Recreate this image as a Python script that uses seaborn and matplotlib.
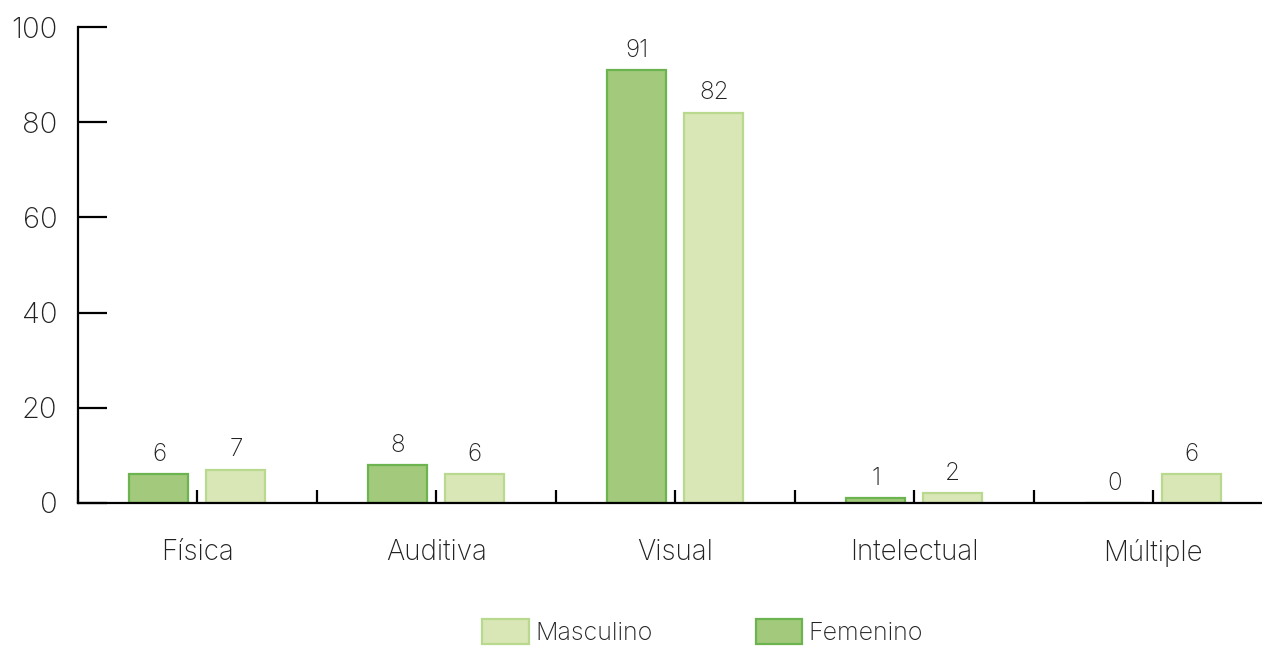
import pandas as pd
import seaborn as sns
import matplotlib.pyplot as plt
from matplotlib.patches import Patch

# data
categorias = ["Física", "Auditiva", "Visual", "Intelectual", "Múltiple"]
femenino = [6, 8, 91, 1, 0]
masculino = [7, 6, 82, 2, 6]

df = pd.DataFrame({
    "categoria": categorias * 2,
    "sexo": ["Femenino"] * len(categorias) + ["Masculino"] * len(categorias),
    "valor": femenino + masculino,
})

fill = {"Femenino": "#a3ca7c", "Masculino": "#d9e7b7"}
edge = {"Femenino": "#6cb44f", "Masculino": "#b9d98f"}
txt = "#222222"

sns.set_style("white")
plt.rcParams["font.family"] = ["Inter", "DejaVu Sans"]
plt.rcParams["font.weight"] = "light"

fig = plt.figure(figsize=(12.62, 6.46), dpi=100)
ax = fig.add_axes([0.0618, 0.2214, 0.9382, 0.7368])

sns.barplot(data=df, x="categoria", y="valor", hue="sexo",
            hue_order=["Femenino", "Masculino"], palette=fill,
            width=0.644, gap=0.233, ax=ax, legend=False, saturation=1)

for cont, s in zip(ax.containers, ["Femenino", "Masculino"]):
    for p in cont:
        p.set_edgecolor(edge[s])
        p.set_linewidth(1.6)
    ax.bar_label(cont, padding=6, fontsize=17.5, color=txt)

ax.set_xlim(-0.5, 4.456)
ax.set_ylim(0, 100)
ax.set_yticks([0, 20, 40, 60, 80, 100])
ax.set_xticks(range(len(categorias)))
ax.set_xticklabels(categorias)
ax.set_xticks([i + 0.5 for i in range(-1, 4)], minor=True)
ax.set_xlabel("")
ax.set_ylabel("")

for side in ["top", "right"]:
    ax.spines[side].set_visible(False)
for side in ["left", "bottom"]:
    ax.spines[side].set_color("black")
    ax.spines[side].set_linewidth(1.6)

ax.tick_params(axis="y", direction="in", length=21, width=1.6, color="black",
               pad=15, labelsize=21, labelcolor=txt, left=True)
ax.tick_params(axis="x", which="both", direction="in", length=9.5, width=1.6,
               color="black", bottom=True)
ax.tick_params(axis="x", which="major", pad=26, labelsize=20, labelcolor=txt)

handles = [
    Patch(facecolor=fill["Masculino"], edgecolor=edge["Masculino"], linewidth=1.6, label="Masculino"),
    Patch(facecolor=fill["Femenino"], edgecolor=edge["Femenino"], linewidth=1.6, label="Femenino"),
]
fig.legend(handles=handles, loc="lower center", bbox_to_anchor=(0.557, -0.033), ncol=2,
           frameon=False, fontsize=18, labelcolor=txt, handlelength=1.85,
           handleheight=1.2, handletextpad=0.28, columnspacing=4.1)

fig.savefig("out.png", dpi=100, facecolor="white")
